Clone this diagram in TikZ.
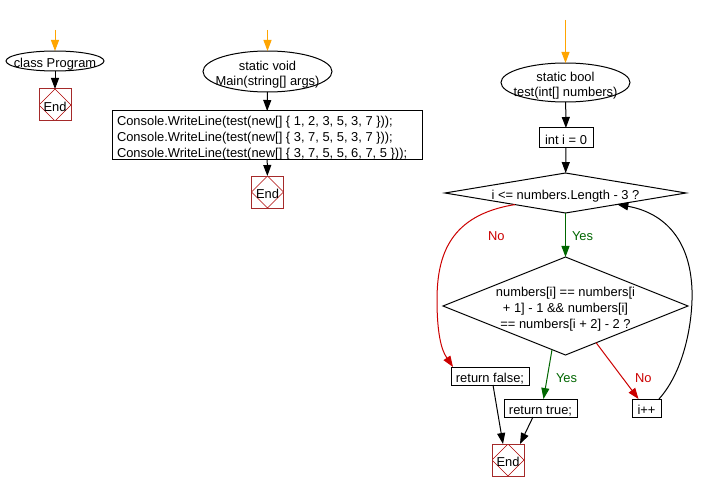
\documentclass[tikz,border=0pt]{standalone}
\usepackage{fontspec}
\setmainfont{Liberation Sans}
\usetikzlibrary{shapes.geometric,arrows.meta,calc}
\definecolor{flowred}{HTML}{CC0000}
\definecolor{flowgreen}{HTML}{006600}
\definecolor{flowor}{HTML}{FFA500}
\definecolor{endbox}{HTML}{A52A2A}
\newcommand{\zbox}[1]{\raisebox{\dimexpr-0.5ex-3pt\relax}[0pt][0pt]{\makebox[0pt]{\begin{tabular}{@{}c@{}}#1\end{tabular}}}}
\newcommand{\zboxl}[1]{\raisebox{\dimexpr-0.5ex-3pt\relax}[0pt][0pt]{\makebox[300pt][l]{\begin{tabular}{@{}l@{}}#1\end{tabular}}}}
\begin{document}
\begin{tikzpicture}[x=1pt,y=-1pt,
  font=\fontsize{12.9}{15.8}\selectfont,
  every node/.style={inner sep=0pt, outer sep=0pt},
  every path/.style={line width=1pt},
  term/.style={draw, ellipse},
  proc/.style={draw, rectangle},
  decide/.style={draw, diamond},
  endnode/.style={draw=endbox, rectangle, minimum width=32, minimum height=32,
    path picture={\draw[flowred!85!black, line width=0.6pt] (path picture bounding box.north) -- (path picture bounding box.east) -- (path picture bounding box.south) -- (path picture bounding box.west) -- cycle;}},
  arr/.style={-{Triangle[length=11pt,width=8pt]}},
  lab/.style={anchor=west}]
\fill[white] (0,0) rectangle (704,492);
\useasboundingbox (0,0) rectangle (704,492);

% column 1
\coordinate (s1) at (55,30);
\node[term, minimum width=98, minimum height=20] (c1) at (55,61) {\zbox{class Program}};
\node[endnode] (e1) at (55,105) {\zbox{End}};

% column 2
\coordinate (s2) at (267.5,30);
\node[term, minimum width=129, minimum height=41] (m) at (267.5,71.5) {\zbox{static void\\Main(string[] args)}};
\node[proc, minimum width=310, minimum height=48] (w) at (267,135)
  {\zboxl{Console.WriteLine(test(new[] \{ 1, 2, 3, 5, 3, 7 \}));\\Console.WriteLine(test(new[] \{ 3, 7, 5, 5, 3, 7 \}));\\Console.WriteLine(test(new[] \{ 3, 7, 5, 5, 6, 7, 5 \}));}};
\node[endnode] (e2) at (267.5,192) {\zbox{End}};

% column 3
\coordinate (s3) at (565.5,20);
\node[term, minimum width=129, minimum height=39] (t) at (565.5,82.5) {\zbox{static bool\\test(int[] numbers)}};
\node[proc, minimum width=54, minimum height=20] (i0) at (566,138) {\zbox{int i = 0}};
\node[decide, minimum width=241, minimum height=40] (d1) at (565.5,193) {\zbox{i <= numbers.Length - 3 ?}};
\node[decide, minimum width=245, minimum height=98] (d2) at (565.5,306) {\zbox{numbers[i] == numbers[i\\+ 1] - 1 \&\& numbers[i]\\== numbers[i + 2] - 2 ?}};
\node[proc, minimum width=78, minimum height=18] (rf) at (490,376) {\zbox{return false;}};
\node[proc, minimum width=73, minimum height=18] (rt) at (540.5,408) {\zbox{return true;}};
\node[proc, minimum width=29, minimum height=18] (inc) at (646.5,408) {\zbox{i++}};
\node[endnode] (e3) at (508,460) {\zbox{End}};

% connectors
\draw[arr, flowor] (s1) -- (c1);
\draw[arr] (c1) -- (e1);
\draw[arr, flowor] (s2) -- (m);
\draw[arr] (m) -- (w);
\draw[arr] (w) -- (e2);
\draw[arr, flowor] (s3) -- (t);
\draw[arr] (t) -- (i0);
\draw[arr] (i0) -- (d1);
\draw[arr, flowgreen] (d1) -- (d2);
\node[lab, text=flowgreen] (y1) at (572,236) {Yes};
\draw[arr, flowred] ($(d1.west)!0.58!(d1.south)$) .. controls (450,215) and (437,255) .. (437,300) .. controls (437,345) and (445,355) .. ([xshift=2]rf.north west);
\node[lab, text=flowred] (n1) at (488,236) {No};
\draw[arr, flowgreen] ($(d2.west)!0.89!(d2.south)$) -- ([xshift=3]rt.north);
\node[lab, text=flowgreen] (y2) at (556,378) {Yes};
\draw[arr, flowred] ($(d2.south)!0.25!(d2.east)$) -- ([xshift=-8]inc.north);
\node[lab, text=flowred] (n2) at (635,378) {No};
\draw[arr] ([xshift=-2]inc.north east) .. controls (685,370) and (693,320) .. (692,290) .. controls (690,235) and (660,212) .. ($(d1.south)!0.43!(d1.east)$);
\draw[arr] ([xshift=3]rf.south) -- ([xshift=-5]e3.north);
\draw[arr] ([xshift=-7.5]rt.south) -- ([xshift=12]e3.north);
\end{tikzpicture}
\end{document}
